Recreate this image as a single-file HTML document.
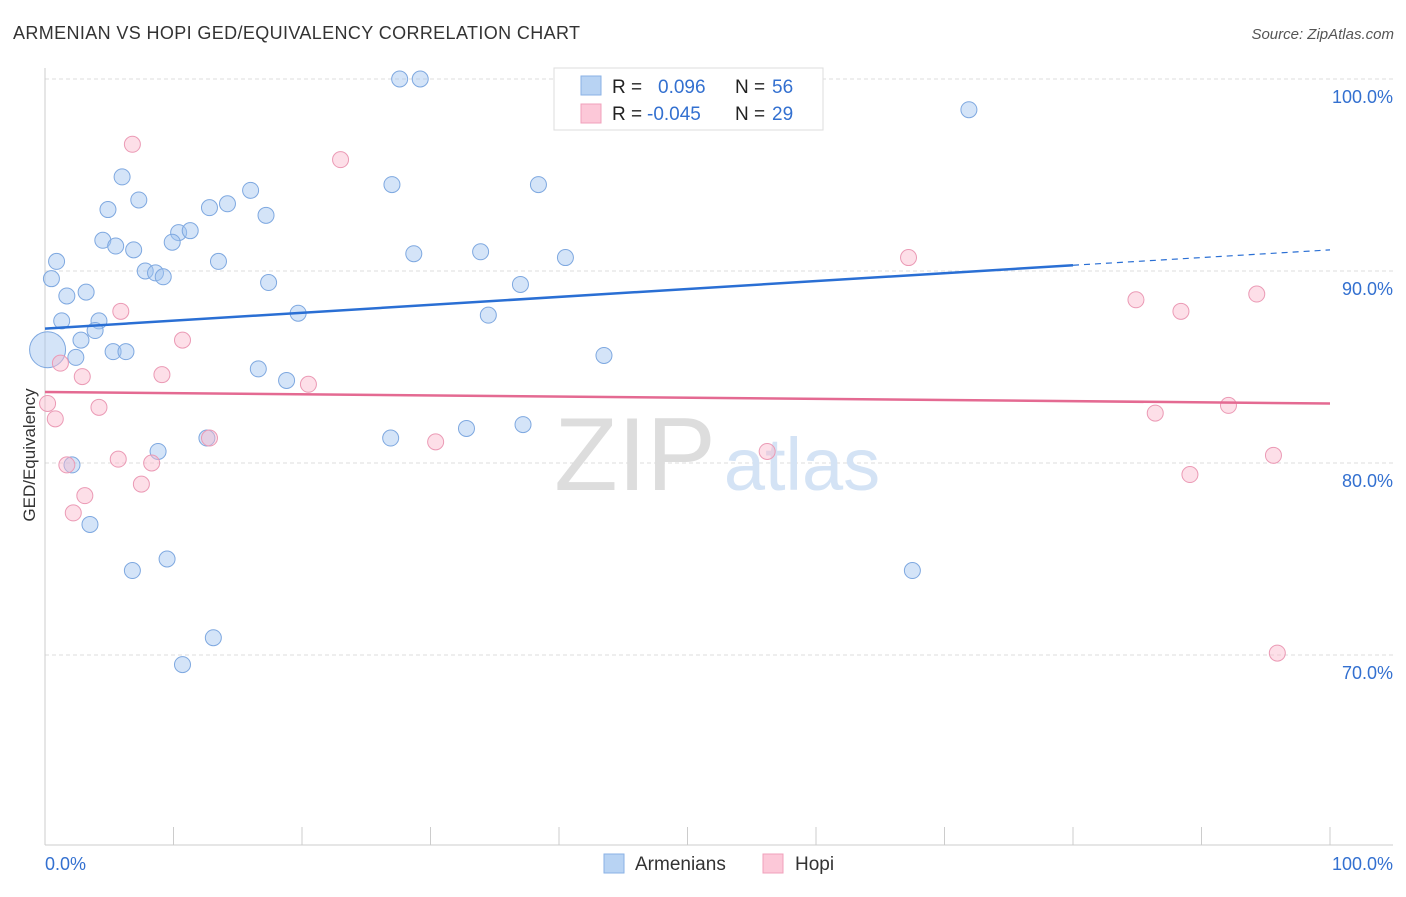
<!DOCTYPE html>
<html><head><meta charset="utf-8"><style>
body{margin:0;background:#fff;font-family:"Liberation Sans",sans-serif;}
svg text{font-family:"Liberation Sans",sans-serif;}
</style></head><body>
<svg id="chart" width="1406" height="892" xmlns="http://www.w3.org/2000/svg">
<text x="13" y="39" font-size="18" fill="#333" textLength="567">ARMENIAN VS HOPI GED/EQUIVALENCY CORRELATION CHART</text>
<text x="1394" y="39" font-size="15" fill="#555" font-style="italic" text-anchor="end">Source: ZipAtlas.com</text>
<text x="35" y="455" font-size="17" fill="#333" transform="rotate(-90 35 455)" text-anchor="middle">GED/Equivalency</text>
<g id="grid"></g>
<g>
<text x="635" y="490" font-size="104" fill="#ddd" font-family="Liberation Serif" text-anchor="middle">ZIP</text>
<text x="802" y="490" font-size="74" fill="#d4e3f5" text-anchor="middle">atlas</text>
</g>
<g id="ticks"></g>
<g id="pts"></g>
<g id="trends"></g>
<g>
<rect x="554" y="68" width="269" height="62" fill="#fff" stroke="#ddd"/>
<rect x="581" y="76" width="20" height="19" fill="#b8d3f3" stroke="#8ab2e6"/>
<rect x="581" y="104" width="20" height="19" fill="#fcc8d8" stroke="#f0a0bb"/>
<text x="612" y="93" font-size="19" fill="#222">R =</text><text x="658" y="93" font-size="19" fill="#3370d0">0.096</text>
<text x="735" y="93" font-size="19" fill="#222">N =</text><text x="772" y="93" font-size="19" fill="#3370d0">56</text>
<text x="612" y="120" font-size="19" fill="#222">R =</text><text x="647" y="120" font-size="19" fill="#3370d0">-0.045</text>
<text x="735" y="120" font-size="19" fill="#222">N =</text><text x="772" y="120" font-size="19" fill="#3370d0">29</text>
</g>
<g>
<rect x="604" y="854" width="20" height="19" fill="#b8d3f3" stroke="#8ab2e6"/>
<text x="635" y="870" font-size="19" fill="#333">Armenians</text>
<rect x="763" y="854" width="20" height="19" fill="#fcc8d8" stroke="#f0a0bb"/>
<text x="795" y="870" font-size="19" fill="#333">Hopi</text>
</g>
<text x="45" y="870" font-size="18" fill="#3370d0">0.0%</text>
<text x="1393" y="870" font-size="18" fill="#3370d0" text-anchor="end">100.0%</text>
</svg>
<script>
const blueX=[27.6,29.2,71.9,6.0,27.0,38.4,7.3,4.9,16.0,12.8,14.2,17.2,10.4,11.3,4.5,5.5,6.9,9.9,28.7,33.9,40.5,0.9,13.5,7.8,8.6,9.2,0.5,17.4,37.0,3.2,1.7,19.7,34.5,1.3,4.2,3.9,2.8,0.2,5.3,6.3,2.4,43.5,16.6,18.8,26.9,12.6,32.8,37.2,8.8,2.1,3.5,9.5,6.8,67.5,13.1,10.7];
const blueY=[100,100,98.4,94.9,94.5,94.5,93.7,93.2,94.2,93.3,93.5,92.9,92.0,92.1,91.6,91.3,91.1,91.5,90.9,91.0,90.7,90.5,90.5,90.0,89.9,89.7,89.6,89.4,89.3,88.9,88.7,87.8,87.7,87.4,87.4,86.9,86.4,85.9,85.8,85.8,85.5,85.6,84.9,84.3,81.3,81.3,81.8,82.0,80.6,79.9,76.8,75.0,74.4,74.4,70.9,69.5];
const pinkX=[6.8,23.0,67.2,94.3,84.9,88.4,5.9,10.7,1.2,2.9,9.1,20.5,0.2,0.8,4.2,86.4,92.1,12.8,30.4,56.2,5.7,95.6,8.3,1.7,89.1,7.5,3.1,2.2,95.9];
const pinkY=[96.6,95.8,90.7,88.8,88.5,87.9,87.9,86.4,85.2,84.5,84.6,84.1,83.1,82.3,82.9,82.6,83.0,81.3,81.1,80.6,80.2,80.4,80.0,79.9,79.4,78.9,78.3,77.4,70.1];
const yTicks=[100,90,80,70];
const yTickLabels=["100.0%","90.0%","80.0%","70.0%"];
const blueTrend=[87.0,90.3,91.1];
const pinkTrend=[83.7,83.1];
const NS="http://www.w3.org/2000/svg";
const xs=v=>45+v*12.85, ys=v=>79+(100-v)*19.2;
function mk(t,a,p){const e=document.createElementNS(NS,t);for(const k in a)e.setAttribute(k,a[k]);p.appendChild(e);return e;}
const grid=document.getElementById('grid'),ticks=document.getElementById('ticks');
yTicks.forEach((v,i)=>{
 const l=mk('line',{x1:45,x2:1393,y1:ys(v),y2:ys(v),stroke:'#ddd','stroke-dasharray':'4 3'},grid);
 
 
 const t=mk('text',{x:1393,y:ys(v)+24,'font-size':18,fill:'#3370d0','text-anchor':'end'},ticks);
 t.textContent=yTickLabels[i];
 
 
});
mk('line',{x1:45,x2:45,y1:68,y2:845,stroke:'#ccc'},grid);
mk('line',{x1:45,x2:1393,y1:845,y2:845,stroke:'#ccc'},grid);
for(let i=0;i<=10;i++){const t=mk('line',{x1:xs(i*10),x2:xs(i*10),y1:827,y2:845,stroke:'#ccc'},grid);
 
 }
const pts=document.getElementById('pts');
blueX.forEach((x,i)=>{const c=mk('circle',{cx:xs(x),cy:ys(blueY[i]),r:i==37?18:8,fill:'rgba(160,195,240,0.45)',stroke:'#7ea8e0','stroke-width':1},pts);
 
 });
pinkX.forEach((x,i)=>{const c=mk('circle',{cx:xs(x),cy:ys(pinkY[i]),r:8,fill:'rgba(250,185,205,0.45)',stroke:'#eb9ab5','stroke-width':1},pts);
 
 });
const tr=document.getElementById('trends');
let l1=mk('line',{x1:xs(0),y1:ys(blueTrend[0]),x2:xs(80),y2:ys(blueTrend[1]),stroke:'#2a6fd4','stroke-width':2.5},tr);


let l2=mk('line',{x1:xs(80),y1:ys(blueTrend[1]),x2:xs(100),y2:ys(blueTrend[2]),stroke:'#2a6fd4','stroke-width':1.2,'stroke-dasharray':'6 5'},tr);


let l3=mk('line',{x1:xs(0),y1:ys(pinkTrend[0]),x2:xs(100),y2:ys(pinkTrend[1]),stroke:'#e46a92','stroke-width':2.5},tr);


</script>
</body></html>
